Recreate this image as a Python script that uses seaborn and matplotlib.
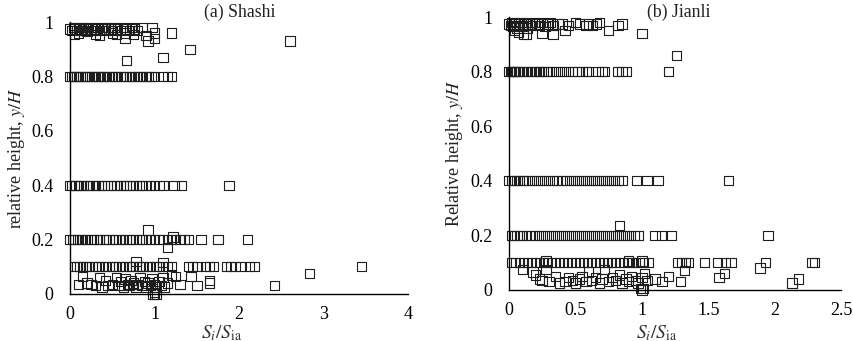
import matplotlib
matplotlib.use("Agg")
import matplotlib.pyplot as plt
import seaborn as sns
import pandas as pd

# ---------------- data: Shashi ----------------
sh_top = [(0.0,0.975),(0.02,0.97),(0.04,0.98),(0.06,0.975),(0.08,0.97),(0.1,0.98),(0.12,0.975),
          (0.14,0.97),(0.16,0.98),(0.18,0.975),(0.2,0.97),(0.22,0.98),(0.25,0.975),(0.28,0.97),
          (0.3,0.98),(0.32,0.975),(0.35,0.97),(0.38,0.98),(0.4,0.975),(0.42,0.97),(0.45,0.98),
          (0.48,0.975),(0.5,0.97),(0.53,0.98),(0.56,0.975),(0.6,0.97),(0.63,0.98),(0.66,0.975),
          (0.7,0.97),(0.73,0.98),(0.76,0.975),(0.8,0.97),
          (0.05,0.955),(0.1,0.96),(0.2,0.965),(0.3,0.955),(0.35,0.95),(0.5,0.96),(0.55,0.955),
          (0.65,0.96),(0.75,0.955),
          (0.85,0.98),(0.97,0.98),(0.9,0.95),(0.92,0.93),(1.0,0.96),(1.0,0.94),(0.65,0.94),
          (1.2,0.96),(1.1,0.87),(0.67,0.86),(1.42,0.90),(2.6,0.93)]
sh_x_08 = [0.0,0.02,0.04,0.06,0.08,0.1,0.12,0.15,0.18,0.2,0.23,0.26,0.28,0.3,0.33,0.36,0.38,
           0.4,0.43,0.46,0.5,0.53,0.56,0.6,0.63,0.66,0.7,0.73,0.76,0.8,0.83,0.86,0.9,0.93,
           0.96,1.0,1.1,1.15,1.2]
sh_x_04 = [0.0,0.02,0.05,0.07,0.1,0.13,0.16,0.2,0.23,0.27,0.3,0.33,0.37,0.4,0.44,0.48,0.52,
           0.55,0.6,0.63,0.67,0.7,0.74,0.78,0.82,0.86,0.9,0.95,1.0,1.05,1.1,1.23,1.32,1.88]
sh_x_02 = [0.0,0.03,0.06,0.09,0.12,0.15,0.18,0.21,0.25,0.28,0.32,0.35,0.39,0.42,0.46,0.5,
           0.54,0.58,0.62,0.66,0.7,0.74,0.78,0.82,0.86,0.9,0.95,1.0,1.05,1.1,1.15,1.2,1.25,
           1.3,1.35,1.4,1.55,1.75,2.1]
sh_x_01 = [0.05,0.08,0.12,0.15,0.18,0.22,0.26,0.3,0.34,0.38,0.42,0.46,0.5,0.54,0.58,0.62,
           0.66,0.7,0.74,0.78,0.82,0.86,0.9,0.94,0.98,1.02,1.06,1.1,1.15,1.2,1.4,1.45,1.5,
           1.6,1.65,1.7,1.85,1.9,1.95,2.02,2.12,2.18,3.45]
sh_low = [(0.92,0.235),(1.22,0.21),(1.15,0.17),(0.78,0.12),(1.1,0.115),
          (0.1,0.035),(0.15,0.065),(0.2,0.04),(0.25,0.035),(0.3,0.03),(0.35,0.06),(0.38,0.025),
          (0.42,0.05),(0.45,0.03),(0.5,0.035),(0.55,0.06),(0.58,0.03),(0.6,0.045),(0.63,0.025),
          (0.65,0.055),(0.68,0.035),(0.7,0.03),(0.72,0.05),(0.75,0.04),(0.78,0.025),(0.8,0.035),
          (0.83,0.06),(0.85,0.03),(0.88,0.045),(0.9,0.025),(0.92,0.04),(0.95,0.03),(0.97,0.055),
          (1.0,0.035),(1.02,0.025),(1.05,0.045),(1.08,0.03),(1.1,0.06),(1.12,0.025),(1.15,0.04),
          (1.2,0.07),(1.25,0.065),(1.3,0.035),(1.43,0.065),(1.5,0.03),(1.65,0.05),(1.65,0.04),
          (2.42,0.03),(2.83,0.075),
          (0.98,0.0),(1.0,0.005),(1.02,0.0),(1.0,0.0)]

# ---------------- data: Jianli ----------------
ji_top = [(0.0,0.975),(0.01,0.97),(0.02,0.98),(0.03,0.965),(0.04,0.975),(0.05,0.98),(0.06,0.96),
          (0.07,0.975),(0.08,0.97),(0.09,0.98),(0.1,0.965),(0.11,0.975),(0.12,0.97),(0.13,0.98),
          (0.14,0.96),(0.15,0.975),(0.17,0.97),(0.19,0.98),(0.21,0.975),(0.23,0.97),(0.25,0.98),
          (0.27,0.965),(0.29,0.975),(0.31,0.98),(0.33,0.97),(0.37,0.975),(0.4,0.975),(0.45,0.97),
          (0.5,0.98),(0.53,0.975),(0.58,0.97),(0.6,0.975),(0.63,0.97),(0.66,0.975),(0.68,0.98),
          (0.82,0.97),(0.85,0.975),(0.04,0.95),(0.07,0.945),(0.11,0.935),(0.13,0.935),
          (0.25,0.94),(0.33,0.935),(0.42,0.95),(0.75,0.95),(1.0,0.94),(1.26,0.86)]
ji_x_08 = [0.0,0.01,0.02,0.03,0.04,0.05,0.06,0.08,0.1,0.12,0.14,0.16,0.18,0.2,0.22,0.24,0.26,
           0.28,0.3,0.33,0.36,0.39,0.42,0.45,0.48,0.52,0.55,0.58,0.6,0.67,0.7,0.72,0.82,0.85,
           0.88,1.2]
ji_x_04 = [0.0,0.02,0.04,0.06,0.08,0.1,0.12,0.15,0.18,0.21,0.24,0.27,0.3,0.33,0.36,0.4,0.43,
           0.46,0.49,0.52,0.55,0.58,0.61,0.64,0.67,0.7,0.73,0.76,0.79,0.82,0.85,0.96,1.04,
           1.12,1.65]
ji_x_02 = [0.02,0.04,0.06,0.08,0.1,0.13,0.16,0.19,0.22,0.25,0.28,0.31,0.34,0.37,0.4,0.43,
           0.46,0.49,0.52,0.55,0.58,0.61,0.64,0.67,0.7,0.73,0.76,0.79,0.82,0.85,0.88,0.91,
           0.94,0.97,1.1,1.15,1.22,1.95]
ji_x_01 = [0.02,0.05,0.08,0.11,0.14,0.17,0.2,0.23,0.26,0.29,0.32,0.35,0.38,0.41,0.44,0.47,
           0.5,0.53,0.56,0.59,0.62,0.65,0.68,0.71,0.74,0.77,0.8,0.83,0.86,0.89,0.92,0.95,0.98,
           1.01,1.05,1.27,1.3,1.33,1.35,1.47,1.57,1.63,1.67,1.93,2.28,2.3]
ji_low = [(0.83,0.235),(0.28,0.105),(0.9,0.105),(1.0,0.105),
          (0.1,0.075),(0.18,0.065),(0.2,0.055),(0.23,0.04),(0.25,0.035),(0.28,0.075),(0.3,0.03),
          (0.35,0.05),(0.38,0.025),(0.42,0.03),(0.45,0.045),(0.48,0.035),(0.5,0.025),(0.53,0.04),
          (0.55,0.05),(0.58,0.03),(0.6,0.065),(0.62,0.035),(0.65,0.045),(0.68,0.025),(0.7,0.04),
          (0.72,0.075),(0.75,0.03),(0.78,0.045),(0.8,0.035),(0.83,0.055),(0.85,0.025),(0.88,0.04),
          (0.9,0.03),(0.92,0.05),(0.95,0.035),(0.97,0.025),(1.0,0.045),(1.02,0.06),(1.04,0.035),
          (1.1,0.04),(1.15,0.03),(1.2,0.05),(1.29,0.03),(1.32,0.07),(1.58,0.045),(1.62,0.06),
          (1.89,0.08),(2.13,0.025),(2.18,0.04),
          (1.0,0.0),(0.99,0.005),(1.01,0.005)]

y_ticks = [0, 0.2, 0.4, 0.6, 0.8, 1]
y_ticklabels = ["0", "0.2", "0.4", "0.6", "0.8", "1"]
sh_xticks = [0, 1, 2, 3, 4]
sh_xticklabels = ["0", "1", "2", "3", "4"]
ji_xticks = [0, 0.5, 1, 1.5, 2, 2.5]
ji_xticklabels = ["0", "0.5", "1", "1.5", "2", "2.5"]


def build(top, x08, x04, x02, x01, low):
    pts = list(top)
    pts += [(x, 0.8) for x in x08]
    pts += [(x, 0.4) for x in x04]
    pts += [(x, 0.2) for x in x02]
    pts += [(x, 0.1) for x in x01]
    pts += list(low)
    return pd.DataFrame(pts, columns=["x", "y"])


df_sh = build(sh_top, sh_x_08, sh_x_04, sh_x_02, sh_x_01, sh_low)
df_ji = build(ji_top, ji_x_08, ji_x_04, ji_x_02, ji_x_01, ji_low)

sns.set_theme(style="white")
plt.rcParams["font.family"] = ["Liberation Serif", "DejaVu Serif"]
plt.rcParams["mathtext.fontset"] = "stix"

fig = plt.figure(figsize=(8.54, 3.41), dpi=100)
ax1 = fig.add_axes([0.082, 0.138, 0.396, 0.797])
ax2 = fig.add_axes([0.596, 0.150, 0.389, 0.800])

panels = [
    (ax1, df_sh, 4, sh_xticks, sh_xticklabels, "relative height, $y/H$", "(a) Shashi",
     2.01, 1.037, 0.45, -0.107, -0.157),
    (ax2, df_ji, 2.5, ji_xticks, ji_xticklabels, "Relative height, $y/H$", "(b) Jianli",
     1.28, 1.018, 0.446, -0.121, -0.163),
]

for ax, df, xmax, xt, xtl, ylab, title, tx, ty, xlx, xly, ylx in panels:
    sns.scatterplot(data=df, x="x", y="y", ax=ax, marker="s", s=46,
                    facecolors="none", edgecolor="#1e1e1e", linewidth=0.8,
                    clip_on=False, legend=False)
    ax.set_xlim(0, xmax)
    ax.set_ylim(0, 1)
    ax.set_xticks(xt)
    ax.set_xticklabels(xtl)
    ax.set_yticks(y_ticks)
    ax.set_yticklabels(y_ticklabels)
    for s in ["top", "right"]:
        ax.spines[s].set_visible(False)
    for s in ["left", "bottom"]:
        ax.spines[s].set_color("black")
        ax.spines[s].set_linewidth(1.0)
    ax.tick_params(direction="in", length=4, width=0.8, labelsize=13,
                   colors="black")
    ax.tick_params(axis="x", pad=9)
    ax.tick_params(axis="y", pad=12)
    ax.set_xlabel(r"$S_i/S_{\mathrm{ia}}$", fontsize=14, color="#333333")
    ax.xaxis.set_label_coords(xlx, xly)
    ax.set_ylabel(ylab, fontsize=13, color="#222222", va="center")
    ax.yaxis.set_label_coords(ylx, 0.5)
    ax.text(tx, ty, title, ha="center", va="center", fontsize=12.8, color="#222222")
    ax.set_facecolor("white")

fig.savefig("out.png", dpi=100)
